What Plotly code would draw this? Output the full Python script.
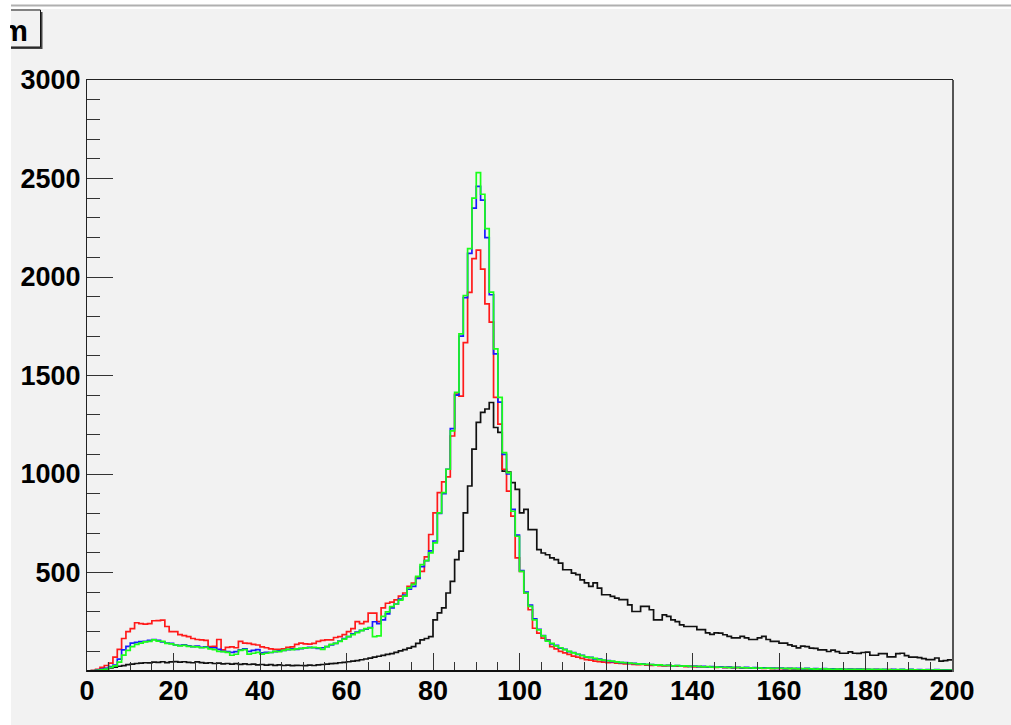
import plotly.graph_objects as go

# ---------------- data: 200 bins of width 1 on [0, 200) ----------------
bin_low = list(range(0, 200))
bin_width = 1

black = [
    0, 2, 5, 8, 12, 16, 20, 24, 27, 32,
    35, 38, 40, 42, 41, 45, 44, 47, 43, 46,
    48, 45, 47, 44, 42, 46, 43, 40, 42, 38,
    40, 36, 38, 35, 37, 34, 36, 33, 35, 31,
    33, 30, 32, 29, 31, 28, 30, 27, 29, 28,
    27, 30, 28, 31, 33, 35, 37, 39, 42, 44,
    47, 50, 53, 57, 61, 65, 70, 75, 79, 84,
    88, 95, 102, 108, 116, 124, 140, 158, 165, 175,
    260, 295, 320, 396, 455, 565, 608, 803, 939, 1126,
    1262, 1313, 1330, 1363, 1236, 1211, 1015, 1010, 956, 922,
    803, 820, 718, 718, 616, 599, 590, 574, 565, 548,
    514, 514, 497, 489, 463, 447, 430, 447, 421, 387,
    387, 379, 370, 362, 362, 336, 302, 302, 328, 328,
    311, 260, 260, 285, 277, 260, 251, 234, 226, 226,
    226, 210, 210, 194, 186, 194, 192, 184, 176, 168,
    168, 176, 168, 160, 160, 168, 176, 160, 150, 150,
    142, 142, 133, 126, 117, 126, 124, 116, 115, 107,
    107, 99, 106, 98, 90, 90, 97, 90, 89, 94,
    96, 80, 80, 88, 88, 72, 72, 88, 90, 78,
    70, 70, 68, 63, 58, 58, 66, 50, 53, 56,
]

red = [
    0, 2, 8, 18, 28, 40, 70, 110, 165, 200,
    215, 245, 240, 238, 240, 255, 256, 258, 226, 200,
    200, 185, 180, 175, 165, 160, 158, 155, 124, 125,
    160, 107, 120, 122, 118, 150, 141, 140, 135, 132,
    122, 118, 112, 110, 110, 112, 120, 122, 135, 141,
    138, 136, 140, 150, 155, 158, 158, 170, 175, 185,
    200, 215, 251, 240, 251, 294, 294, 251, 320, 344,
    350, 361, 380, 396, 430, 446, 475, 506, 579, 693,
    803, 905, 960, 985, 1193, 1405, 1395, 1667, 1922, 2093,
    2136, 2040, 1864, 1771, 1389, 1253, 1024, 913, 786, 574,
    506, 396, 311, 217, 192, 167, 158, 124, 112, 100,
    92, 84, 76, 70, 64, 58, 55, 50, 48, 45,
    42, 44, 40, 38, 36, 37, 34, 32, 33, 30,
    29, 30, 27, 26, 27, 25, 24, 25, 22, 23,
    21, 22, 20, 19, 20, 18, 19, 17, 18, 16,
    17, 15, 16, 14, 15, 14, 13, 14, 12, 13,
    12, 11, 12, 11, 10, 11, 10, 9, 10, 9,
    9, 8, 9, 8, 8, 7, 8, 7, 7, 8,
    7, 6, 7, 6, 6, 7, 5, 6, 6, 5,
    6, 5, 5, 6, 5, 4, 5, 5, 4, 4,
]

blue = [
    0, 1, 4, 8, 14, 22, 30, 60, 107, 125,
    141, 145, 149, 150, 155, 160, 156, 148, 142, 140,
    132, 130, 133, 128, 124, 126, 120, 122, 118, 118,
    110, 100, 98, 95, 98, 107, 112, 100, 105, 108,
    92, 95, 94, 98, 102, 104, 108, 112, 110, 114,
    117, 120, 118, 115, 118, 124, 132, 140, 152, 165,
    175, 188, 198, 206, 212, 220, 250, 240, 260, 290,
    320, 340, 365, 385, 415, 430, 470, 530, 560, 610,
    660, 800, 900, 1024, 1230, 1400, 1700, 1895, 2120, 2350,
    2460, 2390, 2200, 1910, 1610, 1365, 1100, 1000, 820, 690,
    510, 400, 335, 265, 212, 180, 155, 138, 130, 116,
    110, 98, 94, 84, 80, 70, 69, 62, 60, 54,
    53, 48, 47, 43, 43, 39, 39, 35, 36, 33,
    33, 30, 31, 28, 29, 26, 28, 25, 26, 23,
    25, 22, 23, 21, 22, 19, 21, 18, 20, 17,
    19, 16, 18, 15, 17, 15, 16, 14, 15, 13,
    15, 12, 14, 12, 13, 11, 13, 10, 12, 10,
    12, 9, 11, 9, 11, 8, 10, 8, 10, 8,
    9, 7, 9, 7, 9, 6, 8, 6, 8, 6,
    8, 5, 7, 5, 7, 5, 7, 4, 6, 4,
]

green = [
    0, 1, 3, 6, 10, 18, 26, 45, 81, 105,
    124, 135, 141, 148, 150, 158, 152, 150, 140, 138,
    132, 128, 130, 125, 124, 122, 118, 120, 112, 108,
    100, 98, 95, 80, 85, 105, 108, 86, 90, 95,
    86, 90, 94, 100, 98, 105, 110, 108, 112, 115,
    117, 118, 120, 118, 110, 124, 135, 140, 150, 162,
    175, 185, 195, 205, 215, 219, 175, 178, 277, 300,
    327, 340, 360, 380, 422, 440, 480, 540, 560, 600,
    650, 803, 905, 1024, 1219, 1414, 1711, 1906, 2144, 2400,
    2530, 2420, 2246, 1923, 1635, 1389, 1108, 1007, 811, 684,
    506, 396, 328, 260, 209, 178, 152, 140, 128, 118,
    108, 100, 92, 85, 78, 72, 68, 64, 58, 55,
    52, 50, 46, 44, 42, 40, 38, 36, 35, 34,
    33, 30, 31, 28, 29, 26, 28, 25, 26, 23,
    24, 23, 21, 22, 20, 20, 19, 19, 17, 18,
    17, 17, 16, 16, 15, 16, 14, 15, 13, 14,
    14, 13, 12, 13, 11, 12, 12, 11, 10, 11,
    11, 10, 9, 10, 10, 9, 8, 9, 9, 8,
    8, 8, 7, 8, 7, 7, 6, 7, 7, 6,
    7, 6, 5, 6, 6, 5, 6, 5, 4, 5,
]

series = [("black", black, "#111111"), ("red", red, "#ff1a1a"),
          ("blue", blue, "#1a1aff"), ("green", green, "#1aff1a")]

x_ticks = [0, 20, 40, 60, 80, 100, 120, 140, 160, 180, 200]
y_ticks = [500, 1000, 1500, 2000, 2500, 3000]
title_text = "m"

# ---------------- figure ----------------
W, H = 1011, 725
L, R, T, B = 87, 952, 80, 671          # plot frame in pixels
pw, ph = R - L, B - T


def px(xp):
    return (xp - L) / pw


def py(yp):
    return (B - yp) / ph


fig = go.Figure()
for name, vals, col in series:
    xs = bin_low + [bin_low[-1] + bin_width]
    ys = list(vals) + [vals[-1]]
    fig.add_trace(go.Scatter(x=xs, y=ys, mode="lines", name=name,
                             line=dict(color=col, width=1.7, shape="hv"),
                             hoverinfo="skip"))

tickfont = dict(family="Liberation Sans", size=27, color="#000000", weight="bold")

fig.update_layout(
    width=W, height=H,
    margin=dict(l=L, r=W - R, t=T, b=H - B, pad=0),
    paper_bgcolor="#f2f2f2", plot_bgcolor="#f2f2f2",
    showlegend=False,
    xaxis=dict(range=[0, 200], showgrid=False, zeroline=False,
               showline=True, mirror=True, linecolor="#222222", linewidth=1,
               ticks="inside", ticklen=18, tickwidth=1, tickcolor="#333333",
               tickmode="array", tickvals=x_ticks, ticktext=[str(v) for v in x_ticks],
               tickfont=tickfont, ticklabelstandoff=-4,
               minor=dict(ticks="inside", ticklen=9, tickwidth=1, tickcolor="#333333",
                          tickmode="linear", tick0=0, dtick=5, showgrid=False)),
    yaxis=dict(range=[0, 3000], showgrid=False, zeroline=False,
               showline=True, mirror=True, linecolor="#222222", linewidth=1,
               ticks="inside", ticklen=26, tickwidth=1, tickcolor="#333333",
               tickmode="array", tickvals=y_ticks, ticktext=[str(v) for v in y_ticks],
               tickfont=tickfont, ticklabelstandoff=0,
               minor=dict(ticks="inside", ticklen=13, tickwidth=1, tickcolor="#333333",
                          tickmode="linear", tick0=0, dtick=100, showgrid=False)),
)

shapes = [
    # thicker bottom axis line and frame right edge shadow
    dict(type="line", xref="paper", yref="paper", x0=px(87), x1=px(953), y0=py(671), y1=py(671),
         line=dict(color="#111111", width=2)),
    dict(type="line", xref="paper", yref="paper", x0=px(953), x1=px(953), y0=py(672), y1=py(80),
         line=dict(color="#555555", width=2)),
    # title box shadow and box
    dict(type="rect", xref="paper", yref="paper", x0=px(-10), x1=px(42.5), y0=py(49), y1=py(12),
         fillcolor="#444444", line=dict(width=0)),
    dict(type="rect", xref="paper", yref="paper", x0=px(-10), x1=px(40.5), y0=py(47), y1=py(10),
         fillcolor="#f2f2f2", line=dict(color="#111111", width=1)),
    # white page margins and canvas top border
    dict(type="rect", xref="paper", yref="paper", x0=px(0), x1=px(11), y0=py(H), y1=py(0),
         fillcolor="#ffffff", line=dict(width=0)),
    dict(type="rect", xref="paper", yref="paper", x0=px(0), x1=px(W), y0=py(9), y1=py(0),
         fillcolor="#ffffff", line=dict(width=0)),
    dict(type="line", xref="paper", yref="paper", x0=px(11), x1=px(W), y0=py(5.5), y1=py(5.5),
         line=dict(color="#b0b0b0", width=2)),
]
fig.update_layout(shapes=shapes)

# title text: the pave is cut by the window edge, so only the right part of the glyph shows
fig.add_annotation(xref="paper", yref="paper", x=px(28), y=py(30.5), xanchor="right", yanchor="middle",
                   text=title_text, showarrow=False, width=18, height=30, align="right",
                   borderpad=0, borderwidth=0,
                   font=dict(family="Liberation Sans", size=30, color="#000000", weight="bold"))

fig.write_html("out.html", config={"displayModeBar": False},
               post_script="document.body.style.margin='0';document.body.style.overflow='hidden';")
